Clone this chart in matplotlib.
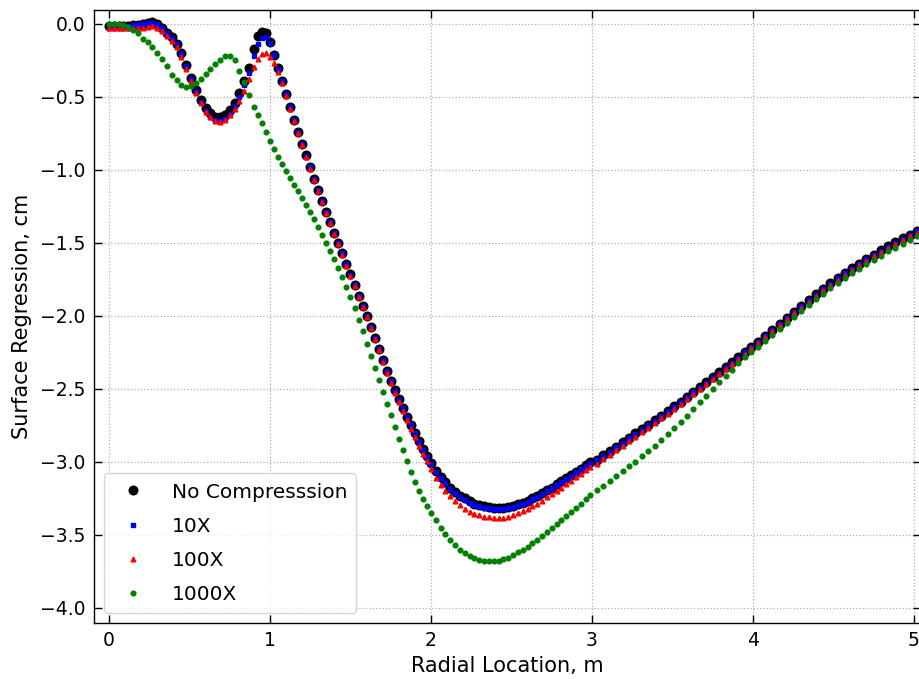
import matplotlib
matplotlib.use("Agg")
import matplotlib.pyplot as plt

# Radial locations (m)
radial_location = [
    0.00, 0.03, 0.06, 0.09, 0.12, 0.15, 0.18, 0.21, 0.24, 0.27,
    0.30, 0.33, 0.36, 0.39, 0.42, 0.45, 0.48, 0.51, 0.54, 0.57,
    0.60, 0.63, 0.66, 0.69, 0.72, 0.75, 0.78, 0.81, 0.84, 0.87, 0.90,
    0.925, 0.95, 0.975, 1.0, 1.025, 1.05, 1.075, 1.1, 1.125, 1.15,
    1.175, 1.2, 1.225, 1.25, 1.275, 1.3, 1.325, 1.35, 1.375, 1.4,
    1.425, 1.45, 1.475, 1.5, 1.525, 1.55, 1.575, 1.6, 1.625, 1.65,
    1.675, 1.7, 1.725, 1.75, 1.775, 1.8, 1.825, 1.85, 1.875, 1.9,
    1.925, 1.95, 1.975, 2.0,
    2.03, 2.06, 2.09, 2.12, 2.15, 2.18, 2.21, 2.24, 2.27, 2.30,
    2.33, 2.36, 2.39, 2.42, 2.45, 2.48, 2.51, 2.54, 2.57, 2.60,
    2.63, 2.66, 2.69, 2.72, 2.75, 2.78, 2.81, 2.84, 2.87, 2.90,
    2.93, 2.96, 2.99,
    3.03, 3.07, 3.11, 3.15, 3.19, 3.23, 3.27, 3.31, 3.35, 3.39,
    3.43, 3.47, 3.51, 3.55, 3.59, 3.63, 3.67, 3.71, 3.75, 3.79,
    3.83, 3.87, 3.91, 3.95, 3.99,
    4.03, 4.075, 4.12, 4.165, 4.21, 4.255, 4.30, 4.345, 4.39, 4.435,
    4.48, 4.525, 4.57, 4.615, 4.66, 4.705, 4.75, 4.795, 4.84, 4.885,
    4.93, 4.975, 5.02, 5.065,
]

# Surface regression (cm) - No Compression
no_compression = [
    -0.015, -0.015, -0.015, -0.015, -0.013, -0.010, -0.005, 0.000, 0.008, 0.012,
    0.000, -0.025, -0.060, -0.090, -0.135, -0.200, -0.280, -0.370, -0.450, -0.520,
    -0.575, -0.610, -0.635, -0.640, -0.625, -0.590, -0.540, -0.470, -0.390, -0.300, -0.170,
    -0.085, -0.055, -0.065, -0.120, -0.210, -0.300, -0.390, -0.480, -0.570, -0.655,
    -0.740, -0.820, -0.900, -0.980, -1.060, -1.135, -1.210, -1.285, -1.355, -1.430,
    -1.500, -1.570, -1.645, -1.715, -1.785, -1.860, -1.930, -2.000, -2.075, -2.150,
    -2.225, -2.300, -2.375, -2.445, -2.510, -2.570, -2.630, -2.690, -2.745, -2.800,
    -2.855, -2.910, -2.960, -3.010,
    -3.060, -3.100, -3.140, -3.175, -3.205, -3.230, -3.250, -3.270, -3.285, -3.295,
    -3.305, -3.310, -3.315, -3.315, -3.313, -3.308, -3.300, -3.290, -3.278, -3.265,
    -3.250, -3.233, -3.215, -3.195, -3.175, -3.154, -3.133, -3.112, -3.090, -3.068,
    -3.046, -3.024, -3.002,
    -2.985, -2.955, -2.925, -2.895, -2.865, -2.835, -2.805, -2.775, -2.745, -2.715,
    -2.683, -2.651, -2.619, -2.587, -2.554, -2.521, -2.488, -2.454, -2.420, -2.386,
    -2.352, -2.317, -2.282, -2.247, -2.210,
    -2.175, -2.134, -2.093, -2.052, -2.011, -1.970, -1.930, -1.890, -1.851, -1.813,
    -1.776, -1.740, -1.706, -1.673, -1.641, -1.610, -1.580, -1.551, -1.523, -1.496,
    -1.469, -1.443, -1.417, -1.391,
]

# 10X compression
compression_10x = [
    -0.015, -0.015, -0.015, -0.015, -0.013, -0.010, -0.006, -0.001, 0.006, 0.010,
    -0.002, -0.027, -0.062, -0.093, -0.138, -0.204, -0.285, -0.380, -0.460, -0.535,
    -0.595, -0.635, -0.660, -0.665, -0.650, -0.615, -0.565, -0.500, -0.420, -0.335, -0.220,
    -0.140, -0.095, -0.090, -0.130, -0.215, -0.305, -0.392, -0.482, -0.571, -0.656,
    -0.741, -0.821, -0.901, -0.981, -1.061, -1.136, -1.211, -1.286, -1.356, -1.431,
    -1.501, -1.571, -1.646, -1.716, -1.786, -1.861, -1.931, -2.001, -2.076, -2.151,
    -2.226, -2.301, -2.376, -2.447, -2.512, -2.573, -2.633, -2.693, -2.749, -2.805,
    -2.860, -2.915, -2.966, -3.016,
    -3.066, -3.107, -3.147, -3.183, -3.213, -3.238, -3.258, -3.278, -3.293, -3.303,
    -3.313, -3.318, -3.323, -3.323, -3.321, -3.316, -3.308, -3.297, -3.285, -3.272,
    -3.256, -3.239, -3.221, -3.201, -3.180, -3.159, -3.138, -3.116, -3.094, -3.072,
    -3.050, -3.028, -3.006,
    -2.989, -2.959, -2.929, -2.899, -2.869, -2.839, -2.809, -2.778, -2.748, -2.718,
    -2.686, -2.654, -2.622, -2.590, -2.557, -2.524, -2.491, -2.457, -2.423, -2.389,
    -2.355, -2.320, -2.285, -2.250, -2.213,
    -2.178, -2.137, -2.096, -2.055, -2.014, -1.973, -1.933, -1.893, -1.854, -1.816,
    -1.779, -1.743, -1.709, -1.676, -1.644, -1.613, -1.583, -1.554, -1.526, -1.499,
    -1.472, -1.446, -1.420, -1.394,
]

# 100X compression
compression_100x = [
    -0.025, -0.025, -0.025, -0.025, -0.025, -0.025, -0.025, -0.025, -0.020, -0.015,
    -0.025, -0.050, -0.080, -0.115, -0.160, -0.225, -0.305, -0.390, -0.470, -0.540,
    -0.600, -0.640, -0.665, -0.670, -0.655, -0.625, -0.580, -0.525, -0.460, -0.375, -0.295,
    -0.240, -0.205, -0.200, -0.225, -0.270, -0.330, -0.405, -0.490, -0.580, -0.665,
    -0.750, -0.830, -0.910, -0.990, -1.070, -1.145, -1.220, -1.295, -1.365, -1.440,
    -1.510, -1.580, -1.655, -1.725, -1.795, -1.870, -1.940, -2.010, -2.085, -2.160,
    -2.235, -2.315, -2.390, -2.462, -2.530, -2.590, -2.652, -2.715, -2.772, -2.830,
    -2.888, -2.943, -2.996, -3.050,
    -3.110, -3.155, -3.200, -3.235, -3.270, -3.295, -3.320, -3.340, -3.355, -3.365,
    -3.375, -3.380, -3.385, -3.385, -3.383, -3.376, -3.366, -3.353, -3.338, -3.322,
    -3.304, -3.285, -3.265, -3.243, -3.221, -3.198, -3.175, -3.152, -3.128, -3.104,
    -3.080, -3.056, -3.032,
    -3.014, -2.983, -2.952, -2.921, -2.890, -2.859, -2.828, -2.797, -2.766, -2.735,
    -2.702, -2.669, -2.636, -2.603, -2.569, -2.535, -2.501, -2.466, -2.432, -2.398,
    -2.364, -2.329, -2.294, -2.259, -2.222,
    -2.187, -2.146, -2.105, -2.064, -2.023, -1.982, -1.942, -1.902, -1.863, -1.825,
    -1.788, -1.752, -1.718, -1.685, -1.653, -1.622, -1.592, -1.563, -1.535, -1.508,
    -1.481, -1.455, -1.429, -1.403,
]

# 1000X compression
compression_1000x = [
    0.000, 0.000, 0.000, -0.005, -0.020, -0.040, -0.065, -0.100, -0.125, -0.160,
    -0.200, -0.240, -0.290, -0.350, -0.385, -0.415, -0.430, -0.425, -0.405, -0.375,
    -0.345, -0.310, -0.275, -0.245, -0.222, -0.222, -0.250, -0.320, -0.400, -0.485, -0.570,
    -0.625, -0.680, -0.740, -0.800, -0.855, -0.910, -0.960, -1.005, -1.055, -1.100,
    -1.145, -1.190, -1.240, -1.290, -1.335, -1.390, -1.445, -1.500, -1.555, -1.610,
    -1.670, -1.735, -1.800, -1.870, -1.945, -2.025, -2.105, -2.190, -2.275, -2.355,
    -2.440, -2.520, -2.600, -2.680, -2.760, -2.840, -2.920, -2.995, -3.070, -3.140,
    -3.200, -3.255, -3.305, -3.350,
    -3.400, -3.450, -3.495, -3.535, -3.570, -3.600, -3.625, -3.645, -3.660, -3.670,
    -3.677, -3.680, -3.680, -3.676, -3.668, -3.655, -3.640, -3.620, -3.600, -3.580,
    -3.557, -3.533, -3.508, -3.482, -3.455, -3.428, -3.400, -3.372, -3.343, -3.314,
    -3.285, -3.255, -3.225,
    -3.195, -3.163, -3.131, -3.098, -3.065, -3.031, -2.997, -2.962, -2.926, -2.889,
    -2.851, -2.811, -2.769, -2.726, -2.682, -2.637, -2.591, -2.545, -2.499, -2.454,
    -2.410, -2.367, -2.325, -2.284, -2.244,
    -2.210, -2.169, -2.128, -2.087, -2.046, -2.005, -1.965, -1.925, -1.886, -1.848,
    -1.811, -1.775, -1.741, -1.708, -1.676, -1.645, -1.615, -1.586, -1.558, -1.531,
    -1.504, -1.478, -1.452, -1.426,
]

series_labels = ["No Compresssion", "10X", "100X", "1000X"]

fig = plt.figure(figsize=(9.19, 6.79), dpi=100)
ax = fig.add_axes([0.1023, 0.0825, 0.9, 0.9028])

ax.plot(radial_location, no_compression, linestyle="none", marker="o",
        color="black", markersize=6.2, label=series_labels[0], zorder=3)
ax.plot(radial_location, compression_10x, linestyle="none", marker="s",
        color="blue", markersize=3.4, label=series_labels[1], zorder=4)
ax.plot(radial_location, compression_100x, linestyle="none", marker="^",
        color="red", markersize=3.4, label=series_labels[2], zorder=5)
ax.plot(radial_location, compression_1000x, linestyle="none", marker="o",
        color="green", markersize=3.4, label=series_labels[3], zorder=6)

ax.set_xlim(-0.093, -0.093 + 0.9 * 919 / 161)
ax.set_ylim(-4.103, 0.096)
ax.set_xticks([0, 1, 2, 3, 4, 5])
ax.set_yticks([0.0, -0.5, -1.0, -1.5, -2.0, -2.5, -3.0, -3.5, -4.0])

ax.grid(True, linestyle=":", color="#b0b0b0", linewidth=0.9)
ax.tick_params(direction="in", top=True, right=True, length=6, width=1,
               labelsize=13.5, pad=6)
for sp in ax.spines.values():
    sp.set_linewidth(1.0)

ax.set_xlabel("Radial Location, m", fontsize=15, labelpad=4)
ax.set_ylabel("Surface Regression, cm", fontsize=15, labelpad=6)

leg = ax.legend(loc="lower left", fontsize=14.5, markerscale=1.0,
                handletextpad=0.9, borderpad=0.45, labelspacing=0.75,
                framealpha=0.8)

fig.savefig("out.png", dpi=100)
